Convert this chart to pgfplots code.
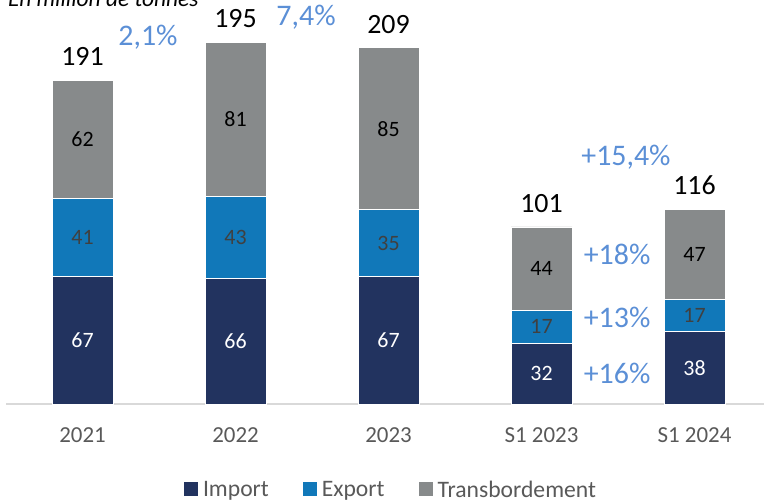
\documentclass[border=0pt]{standalone}
\usepackage{pgfplots}
\pgfplotsset{compat=1.18}
\usepackage{fontspec}
\setmainfont{Carlito}
\definecolor{imp}{HTML}{22335F}
\definecolor{exq}{HTML}{1178B9}
\definecolor{tra}{HTML}{878A8B}
\definecolor{pct}{HTML}{5B8FD6}
\definecolor{tickc}{HTML}{595959}
\definecolor{axisgray}{HTML}{D9D9D9}
\pgfplotsset{
  geom/.style={at={(6bp,100bp)}, anchor=south west,
    scale only axis, width=758bp, height=404bp,
    xmin=-0.5, xmax=4.454, ymin=0, ymax=212.07, clip=false},
  seglab/.style={only marks, mark=none, nodes near coords, point meta=explicit symbolic,
    every node near coord/.style={font=\fontsize{22}{22}\selectfont, text=#1, anchor=center}},
}
\begin{document}
\begin{tikzpicture}
\path[use as bounding box] (0,0) rectangle (764bp,504bp);
\begin{axis}[
  geom,
  ybar stacked, bar width=61bp,
  axis x line=bottom, axis y line=none,
  x axis line style={draw=axisgray, line width=1.5bp, -},
  xtick=data, xticklabels={2021,2022,2023,S1 2023,S1 2024},
  xtick style={draw=none},
  xticklabel style={font=\fontsize{23}{23}\selectfont, text=tickc, yshift=-18bp},
  ytick=\empty,
  legend style={at={(0.5066,-0.2121)}, anchor=center, draw=none, legend columns=3,
    font=\fontsize{23.7}{23.7}\selectfont, text=tickc, nodes={inner sep=0pt},
    /tikz/every odd column/.append style={column sep=5bp},
    /tikz/every even column/.append style={column sep=34bp}},
  legend image code/.code={\fill[#1,draw=none] (0bp,-6bp) rectangle (14bp,8bp);},
]
\addplot[fill=imp, draw=white, line width=0.6bp]
  coordinates {(0,67) (1,66) (2,67) (3,32) (4,38)};
\addplot[fill=exq, draw=white, line width=0.6bp]
  coordinates {(0,41) (1,43) (2,35) (3,17) (4,17)};
\addplot[fill=tra, draw=white, line width=0.6bp]
  coordinates {(0,62) (1,81) (2,85) (3,44) (4,47)};
\legend{Import,Export,Transbordement}
\end{axis}
\begin{axis}[geom, axis lines=none, ytick=\empty, xtick=\empty]
% segment labels at the middle of each segment
\addplot[seglab=white] coordinates {(0,33.5)[67] (1,33)[66] (2,33.5)[67] (3,16)[32] (4,19)[38]};
\addplot[seglab=black!75] coordinates {(0,87.5)[41] (1,87.5)[43] (2,84.5)[35] (3,40.5)[17] (4,46.5)[17]};
\addplot[seglab=black] coordinates {(0,139)[62] (1,149.5)[81] (2,144.5)[85] (3,71)[44] (4,78.5)[47]};
% totals above the bars
\addplot[only marks, mark=none, nodes near coords, point meta=explicit symbolic,
  every node near coord/.style={font=\fontsize{28}{28}\selectfont, text=black, anchor=south, yshift=11bp}]
  coordinates {(0,170)[191] (1,190)[195] (2,187)[209] (3,93)[101] (4,102)[116]};
\node[text=pct, font=\fontsize{30}{30}\selectfont] at (axis cs:0.428,192.7) {2,1\%};
\node[text=pct, font=\fontsize{30}{30}\selectfont] at (axis cs:1.461,203.1) {7,4\%};
\node[text=pct, font=\fontsize{30}{30}\selectfont] at (axis cs:3.552,129.7) {+15,4\%};
\node[text=pct, font=\fontsize{30}{30}\selectfont] at (axis cs:3.494,78.7) {+18\%};
\node[text=pct, font=\fontsize{30}{30}\selectfont] at (axis cs:3.494,45.7) {+13\%};
\node[text=pct, font=\fontsize{30}{30}\selectfont] at (axis cs:3.494,16.3) {+16\%};
\node[anchor=base west, inner sep=0pt, font=\fontsize{23.5}{23.5}\selectfont\itshape] at (axis cs:-0.487,208.9) {En million de tonnes};
\end{axis}
\end{tikzpicture}
\end{document}
